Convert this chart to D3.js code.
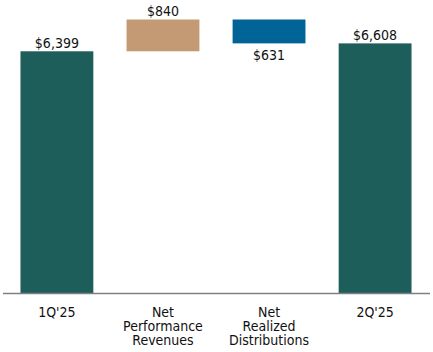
<!DOCTYPE html>
<html>
<head>
<meta charset="utf-8">
<script src="https://cdn.jsdelivr.net/npm/d3@7"></script>
<style>
  body { margin: 0; background: #fff; }
  svg text { font-family: "DejaVu Sans Condensed", "DejaVu Sans", sans-serif; fill: #111; }
</style>
</head>
<body>
<div id="chart"></div>
<script>
const categories = ["1Q'25", "Net\nPerformance\nRevenues", "Net\nRealized\nDistributions", "2Q'25"];
const values = [6399, 840, -631, 6608];
const kinds = ["total", "delta", "delta", "total"];
const valueLabels = ["$6,399", "$840", "$631", "$6,608"];

const W = 433, H = 352;
const baseY = 293.5, topY = 19.5;

const svg = d3.select("#chart").append("svg")
  .attr("width", W).attr("height", H);

// running totals for the waterfall
let run = 0;
const bars = categories.map((c, i) => {
  let y0, y1;
  if (kinds[i] === "total") { y0 = 0; y1 = values[i]; run = values[i]; }
  else { y0 = run; y1 = run + values[i]; run = y1; }
  return { cat: c, v: values[i], lo: Math.min(y0, y1), hi: Math.max(y0, y1), label: valueLabels[i], kind: kinds[i] };
});

const x = d3.scaleBand().domain(categories).range([3.5, 428.5]).paddingInner(0.313).paddingOuter(0.16);
const y = d3.scaleLinear().domain([0, 7239]).range([baseY, topY]);

const colour = d => d.kind === "total" ? "#1e5e5a" : (d.v > 0 ? "#c49a74" : "#006496");

svg.selectAll("rect.bar").data(bars).join("rect")
  .attr("class", "bar")
  .attr("x", d => x(d.cat))
  .attr("width", x.bandwidth())
  .attr("y", d => y(d.hi))
  .attr("height", d => y(d.lo) - y(d.hi))
  .attr("fill", colour);

// baseline
svg.append("line")
  .attr("x1", 3).attr("x2", 430)
  .attr("y1", baseY).attr("y2", baseY)
  .attr("stroke", "#808080").attr("stroke-width", 1.5);

// value labels
svg.selectAll("text.val").data(bars).join("text")
  .attr("class", "val")
  .attr("x", d => x(d.cat) + x.bandwidth() / 2)
  .attr("y", d => d.v < 0 ? y(d.lo) + 16.5 : y(d.hi) - 3.5)
  .attr("text-anchor", "middle")
  .style("font-size", "14px")
  .text(d => d.label);

// category labels
const cl = svg.selectAll("text.cat").data(categories).join("text")
  .attr("class", "cat")
  .attr("text-anchor", "middle")
  .style("font-size", "14px");
cl.each(function (c) {
  const t = d3.select(this);
  c.split("\n").forEach((line, k) => {
    t.append("tspan")
      .attr("x", x(c) + x.bandwidth() / 2)
      .attr("y", 317.3 + k * 14)
      .text(line);
  });
});
</script>
</body>
</html>
